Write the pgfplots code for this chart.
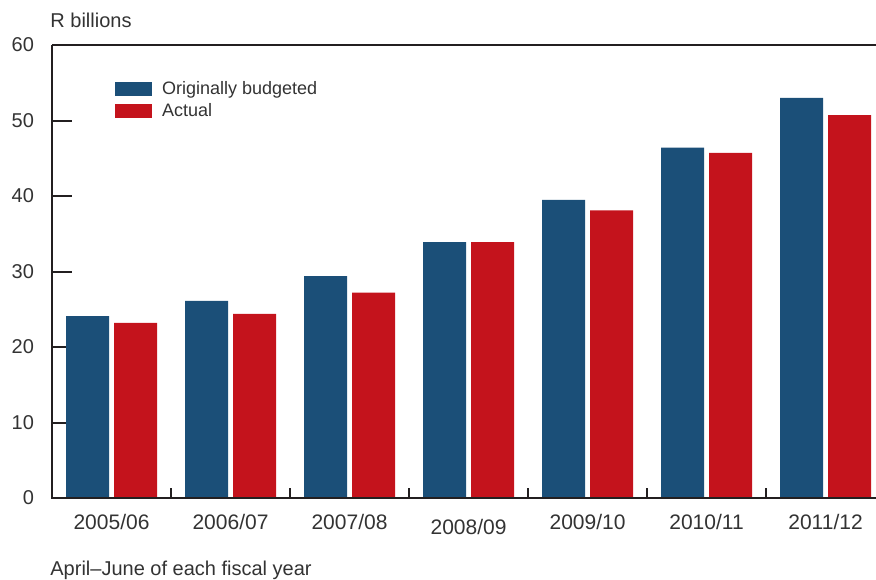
\documentclass[border=0pt]{standalone}
\usepackage{pgfplots}
\pgfplotsset{compat=1.18}
\usepackage{fontspec}
\setmainfont{Liberation Sans}
\definecolor{barblue}{HTML}{1B4F78}
\definecolor{barred}{HTML}{C4131C}
\definecolor{txt}{HTML}{333333}
\definecolor{axc}{HTML}{231F20}
\begin{document}
\begin{tikzpicture}[font=\fontsize{10}{12}\selectfont]
\useasboundingbox (0,0) rectangle (438pt,289.5pt);
\begin{axis}[
  at={(26pt,40.5pt)}, anchor=south west,
  scale only axis, width=412pt, height=226.5pt,
  xmin=-0.5, xmax=6.424, ymin=0, ymax=60,
  axis line style={draw=none},
  ybar, bar width=21.5pt,
  ytick={0,10,20,30,40,50,60},
  ytick pos=left, xtick pos=bottom, tick align=inside,
  major tick length=10pt, minor tick length=5pt,
  tick style={line width=1pt, color=axc},
  major x tick style={draw=none},
  xtick={0,1,2,3,4,5,6},
  xticklabels={2005/06,2006/07,2007/08,\raisebox{-2.5pt}[\height]{2008/09},2009/10,2010/11,2011/12},
  minor xtick={0.5,1.5,2.5,3.5,4.5,5.5},
  xticklabel style={yshift=-4.5pt, text=txt, font=\fontsize{10.5}{12}\selectfont},
  yticklabel style={xshift=-5.5pt, text=txt},
  /pgf/number format/assume math mode=true,
  legend image code/.code={\fill[#1, draw=none] (0pt,-3.5pt) rectangle (18.5pt,3.5pt);},
  legend cell align=left,
  legend style={at={(axis description cs:0.0765,0.9227)}, anchor=north west,
    draw=none, fill=none, inner sep=0pt, outer sep=0pt, row sep=2pt, column sep=5pt,
    font=\fontsize{9}{11}\selectfont,
    nodes={inner sep=0pt, text height=7pt, text depth=2pt, text=txt}},
  clip=false,
]
\addplot[fill=barblue, draw=none, bar shift=-12pt] coordinates {
  (0,24.1) (1,26.1) (2,29.4) (3,33.9) (4,39.5) (5,46.4) (6,53.0)};
\addlegendentry{Originally budgeted}
\addplot[fill=barred, draw=none, bar shift=12pt] coordinates {
  (0,23.2) (1,24.4) (2,27.2) (3,33.9) (4,38.1) (5,45.7) (6,50.7)};
\addlegendentry{Actual}
\draw[line width=1pt, color=axc] (rel axis cs:0,1) -- (rel axis cs:0,0) -- (rel axis cs:1,0);
\draw[line width=1pt, color=axc] (rel axis cs:0,1) -- (rel axis cs:1,1);
\end{axis}
\node[anchor=base west, text=txt, inner sep=0pt] at (25pt,275.5pt) {R billions};
\node[anchor=base west, text=txt, inner sep=0pt] at (25pt,2pt) {April–June of each fiscal year};
\end{tikzpicture}
\end{document}
